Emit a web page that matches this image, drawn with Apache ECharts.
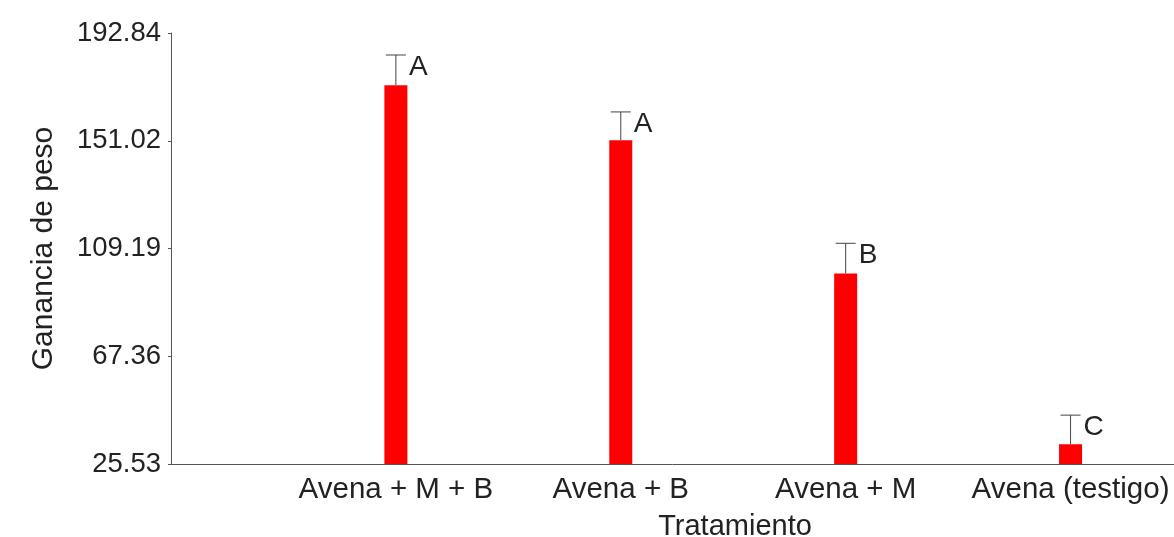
<!DOCTYPE html>
<html>
<head>
<meta charset="utf-8">
<script src="https://cdn.jsdelivr.net/npm/echarts@6/dist/echarts.min.js"></script>
<style>
  html, body { margin: 0; padding: 0; background: #fff; }
  #chart { width: 1174px; height: 537px; }
</style>
</head>
<body>
<div id="chart"></div>
<script>
// data
const categories = ['Avena + M + B', 'Avena + B', 'Avena + M', 'Avena (testigo)']
const means = [172.6, 151.2, 99.5, 33.2]
const upperErr = [184.3, 162.2, 111.2, 44.5]
const letters = ['A', 'A', 'B', 'C']
const yTickLabels = ['25.53', '67.36', '109.19', '151.02', '192.84']
const yMin = 25.53
const yMax = 192.84

// axis is drawn from 0 so the ticks land on yMin + k*step
const step = (yMax - yMin) / 4
const fontFamily = '"Liberation Sans", Arial, sans-serif'
const textColor = '#222'

const chart = echarts.init(document.getElementById('chart'))

chart.setOption({
  backgroundColor: '#fff',
  animation: false,
  textStyle: { fontFamily },
  grid: { left: 171, right: 0, top: 33, bottom: 73, containLabel: false, outerBoundsMode: 'none' },
  xAxis: {
    type: 'value',
    min: 0,
    max: 4.46,
    interval: 1,
    name: 'Tratamiento',
    nameLocation: 'middle',
    nameGap: 48,
    nameTextStyle: { fontSize: 29, color: textColor, fontFamily, padding: [0, 0, 0, 125] },
    axisLine: { show: true, lineStyle: { color: '#555', width: 1 } },
    axisTick: { show: false },
    splitLine: { show: false },
    axisLabel: {
      fontSize: 29.5,
      color: textColor,
      margin: 11,
      fontFamily,
      showMaxLabel: false,
      formatter: v => categories[Math.round(v) - 1] || ''
    }
  },
  yAxis: {
    type: 'value',
    min: 0,
    max: yMax - yMin,
    interval: step,
    name: 'Ganancia de peso',
    nameLocation: 'middle',
    nameGap: 112,
    nameTextStyle: { fontSize: 30, color: textColor, fontFamily },
    axisLine: { show: true, lineStyle: { color: '#555', width: 1 } },
    axisTick: { show: true, length: 3, lineStyle: { color: '#555' } },
    splitLine: { show: false },
    axisLabel: {
      fontSize: 27.5,
      color: textColor,
      margin: 10,
      fontFamily,
      formatter: v => yTickLabels[Math.round(v / step)]
    }
  },
  series: [
    {
      type: 'bar',
      barWidth: 23,
      itemStyle: { color: '#ff0000' },
      data: categories.map((c, i) => [i + 1, means[i] - yMin])
    },
    {
      type: 'custom',
      data: categories.map((c, i) => [i + 1, means[i] - yMin, upperErr[i] - yMin, i]),
      renderItem(params, api) {
        const x = api.value(0)
        const base = api.coord([x, api.value(1)])
        const top = api.coord([x, api.value(2)])
        const idx = api.value(3)
        return {
          type: 'group',
          children: [
            {
              type: 'line',
              shape: { x1: base[0], y1: base[1], x2: top[0], y2: top[1] },
              style: { stroke: '#444', lineWidth: 1 }
            },
            {
              type: 'line',
              shape: { x1: top[0] - 10, y1: top[1], x2: top[0] + 10, y2: top[1] },
              style: { stroke: '#444', lineWidth: 1 }
            },
            {
              type: 'text',
              x: top[0] + 13,
              y: top[1] + 12,
              style: {
                text: letters[idx],
                fontSize: 28,
                fontFamily,
                fill: textColor,
                verticalAlign: 'middle',
                align: 'left'
              }
            }
          ]
        }
      }
    }
  ]
})
</script>
</body>
</html>
